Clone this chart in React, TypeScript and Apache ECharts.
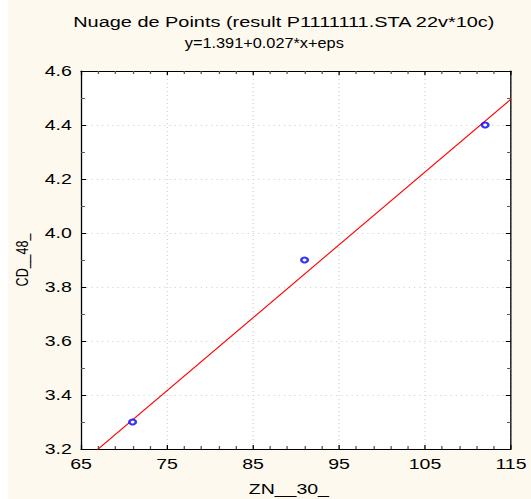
import React, { useEffect, useRef } from "react";
import * as echarts from "echarts";

const TITLE = "Nuage de Points (result P1111111.STA 22v*10c)";
const SUBTITLE = "y=1.391+0.027*x+eps";
const X_NAME = "ZN__30_";
const Y_NAME = "CD__48_";
const ZN_30 = [71, 91, 112];
const CD_48 = [3.3, 3.9, 4.4];
const FIT_INTERCEPT = 1.391;
const FIT_SLOPE = 0.027;
const X_MIN = 65;
const X_MAX = 115;
const X_STEP = 10;
const Y_MIN = 3.2;
const Y_MAX = 4.6;
const Y_STEP = 0.2;

const PAGE_W = 523;
const PAGE_H = 499;
const CHART_W = 402;
const STRETCH = PAGE_W / CHART_W;
const FONT = "'Liberation Sans', Arial, sans-serif";

function axisBase(showLabel: boolean, minorSplit: number) {
  return {
    type: "value",
    axisLine: { show: true, onZero: false, lineStyle: { color: "#000", width: 1 } },
    axisTick: { show: true, inside: true, length: 4, lineStyle: { color: "#000", width: 1 } },
    minorTick: { show: true, splitNumber: minorSplit, length: 3, lineStyle: { color: "#555", width: 1 } },
    splitLine: showLabel
      ? { show: true, lineStyle: { type: [1, 3], color: "#d6d6d6", width: 1 } }
      : { show: false },
    axisLabel: {
      show: showLabel,
      color: "#000",
      fontSize: 15,
      fontFamily: FONT,
      margin: 7,
    },
  };
}

export default function App() {
  const ref = useRef<HTMLDivElement>(null);

  useEffect(() => {
    if (!ref.current) return;
    const chart = echarts.init(ref.current, undefined, { renderer: "svg" });
    const points = ZN_30.map((x, i) => [x, CD_48[i]]);
    const fitLine = [
      [X_MIN, FIT_INTERCEPT + FIT_SLOPE * X_MIN],
      [X_MAX, FIT_INTERCEPT + FIT_SLOPE * X_MAX],
    ];
    chart.setOption({
      animation: false,
      backgroundColor: "transparent",
      grid: {
        left: 56.1,
        right: 15.4,
        top: 71,
        bottom: 50,
        show: true,
        backgroundColor: "#ffffff",
        borderWidth: 0,
        containLabel: false,
        outerBoundsMode: "none",
      },
      graphic: [
        {
          type: "text",
          x: 212,
          y: 21.5,
          style: {
            text: TITLE,
            fontSize: 15.3,
            fontFamily: FONT,
            fill: "#000",
            align: "center",
            verticalAlign: "middle",
            textAlign: "center",
            textVerticalAlign: "middle",
          },
        },
        {
          type: "text",
          x: 197,
          y: 43,
          scaleX: 0.82,
          style: {
            text: SUBTITLE,
            fontSize: 15.3,
            fontFamily: FONT,
            fill: "#000",
            align: "center",
            verticalAlign: "middle",
            textAlign: "center",
            textVerticalAlign: "middle",
          },
        },
      ],
      xAxis: [
        {
          ...axisBase(true, 5),
          position: "bottom",
          min: X_MIN,
          max: X_MAX,
          interval: X_STEP,
          name: X_NAME,
          nameLocation: "middle",
          nameGap: 32,
          nameTextStyle: {
            color: "#000",
            fontSize: 15,
            fontFamily: FONT,
            padding: [0, 11, 0, 0],
          },
        },
        {
          ...axisBase(false, 5),
          position: "top",
          min: X_MIN,
          max: X_MAX,
          interval: X_STEP,
        },
      ],
      yAxis: [
        {
          ...axisBase(true, 2),
          position: "left",
          min: Y_MIN,
          max: Y_MAX,
          interval: Y_STEP,
          axisLabel: {
            ...axisBase(true, 2).axisLabel,
            formatter: (v: number) => v.toFixed(1),
          },
          name: Y_NAME,
          nameLocation: "middle",
          nameGap: 37,
          nameTextStyle: { color: "#000", fontSize: 12.5, fontFamily: FONT },
        },
        {
          ...axisBase(false, 2),
          position: "right",
          min: Y_MIN,
          max: Y_MAX,
          interval: Y_STEP,
        },
      ],
      series: [
        {
          type: "line",
          data: fitLine,
          xAxisIndex: 0,
          yAxisIndex: 0,
          symbol: "none",
          clip: true,
          lineStyle: { color: "#ff0000", width: 1 },
          z: 3,
        },
        {
          type: "scatter",
          data: points,
          xAxisIndex: 0,
          yAxisIndex: 0,
          symbol: "emptyCircle",
          symbolSize: 5,
          itemStyle: { color: "#0000ff", borderColor: "#2222ff", borderWidth: 0.7 },
          z: 4,
        },
      ],
    });
    return () => chart.dispose();
  }, []);

  return (
    <div
      style={{
        position: "absolute",
        left: 8,
        top: 0,
        width: PAGE_W,
        height: PAGE_H,
        background: "#fdf9ee",
        overflow: "hidden",
      }}
    >
      <div
        ref={ref}
        style={{
          width: CHART_W,
          height: PAGE_H,
          transform: `scaleX(${STRETCH})`,
          transformOrigin: "0 0",
        }}
      />
    </div>
  );
}
